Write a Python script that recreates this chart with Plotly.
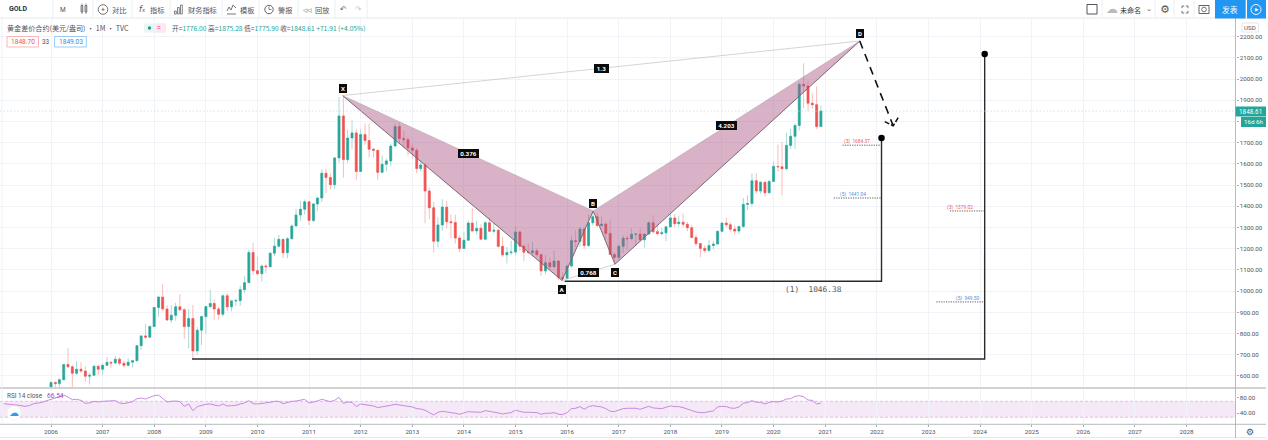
import plotly.graph_objects as go

W, H = 1268, 440

# ---------- data ----------
FIRST_YEAR = 2006
OPEN = [513,569,564,582,654,643,613,632,623,599,603,646,
632,650,664,661,679,660,650,665,672,743,789,783,
833,923,972,916,864,886,926,912,833,871,718,816,
880,927,942,916,891,978,926,954,955,1007,1040,1182,
1096,1082,1118,1115,1179,1212,1244,1181,1247,1307,1359,1386,
1421,1333,1411,1439,1556,1536,1502,1628,1826,1620,1722,1746,
1564,1738,1710,1669,1664,1560,1598,1614,1684,1776,1719,1714,
1675,1664,1578,1595,1472,1393,1235,1312,1396,1327,1323,1250,
1201,1240,1321,1284,1296,1245,1322,1282,1287,1211,1171,1182,
1184,1279,1212,1183,1182,1190,1172,1095,1134,1115,1142,1065,
1060,1118,1238,1234,1293,1215,1322,1351,1309,1316,1272,1173,
1159,1211,1249,1247,1268,1269,1242,1269,1322,1280,1271,1275,
1303,1345,1318,1325,1315,1299,1253,1224,1201,1192,1215,1222,
1282,1321,1313,1292,1283,1305,1409,1413,1520,1472,1513,1464,
1517,1588,1586,1577,1687,1730,1781,1975,1967,1886,1879,1776.00]
HIGH = [575,575,590,655,730,650,670,665,645,615,650,650,
660,690,672,695,690,672,685,675,745,790,845,838,
925,975,1033,935,935,945,987,920,915,935,830,885,
930,1007,960,925,985,990,960,965,1025,1070,1195,1227,
1162,1125,1130,1180,1250,1265,1245,1255,1315,1388,1425,1432,
1425,1412,1445,1575,1577,1555,1632,1915,1921,1760,1805,1765,
1765,1790,1790,1675,1665,1640,1625,1695,1790,1795,1755,1725,
1695,1675,1615,1605,1488,1420,1348,1433,1425,1362,1360,1262,
1280,1332,1392,1331,1315,1332,1345,1323,1293,1255,1208,1238,
1307,1285,1220,1225,1232,1205,1178,1170,1157,1192,1142,1088,
1125,1262,1287,1303,1303,1362,1375,1367,1352,1325,1338,1182,
1220,1263,1262,1296,1270,1296,1270,1330,1358,1306,1299,1307,
1366,1362,1356,1365,1326,1310,1266,1224,1215,1243,1237,1285,
1326,1347,1325,1310,1306,1439,1452,1555,1557,1518,1516,1524,
1612,1690,1703,1747,1765,1790,1985,2075,1992,1933,1965,1875.28]
LOW = [515,543,540,582,640,543,605,615,573,560,600,605,
605,648,637,660,650,640,645,640,670,722,775,785,
835,880,905,860,850,860,905,775,730,680,700,745,
800,920,865,865,880,905,905,930,930,990,1040,1075,
1075,1045,1085,1115,1165,1205,1155,1155,1245,1315,1330,1360,
1310,1325,1380,1420,1462,1480,1480,1605,1535,1605,1670,1525,
1565,1690,1630,1630,1525,1555,1565,1590,1685,1692,1675,1640,
1625,1555,1565,1320,1340,1180,1207,1285,1295,1250,1225,1185,
1203,1240,1280,1268,1240,1240,1282,1272,1205,1160,1130,1170,
1168,1190,1142,1175,1170,1162,1072,1080,1098,1115,1052,1046,
1062,1110,1208,1208,1200,1208,1310,1302,1305,1242,1171,1123,
1147,1180,1195,1243,1214,1236,1205,1266,1270,1262,1264,1236,
1303,1303,1303,1302,1282,1250,1212,1160,1180,1182,1196,1221,
1276,1303,1281,1266,1268,1296,1382,1400,1459,1460,1446,1460,
1518,1563,1451,1568,1670,1670,1757,1862,1848,1860,1764,1775.90]
CLOSE = [569,564,582,654,643,613,632,623,599,603,646,632,
650,664,661,679,660,650,665,672,743,789,783,833,
923,972,916,864,886,926,912,833,871,718,816,880,
927,942,916,891,978,926,954,955,1007,1040,1182,1096,
1082,1118,1115,1179,1212,1244,1181,1247,1307,1359,1386,1421,
1333,1411,1439,1556,1536,1502,1628,1826,1620,1722,1746,1564,
1738,1710,1669,1664,1560,1598,1614,1684,1776,1719,1714,1675,
1664,1578,1595,1472,1393,1235,1312,1396,1327,1323,1250,1201,
1240,1321,1284,1296,1245,1322,1282,1287,1211,1171,1182,1184,
1279,1212,1183,1182,1190,1172,1095,1134,1115,1142,1065,1060,
1118,1238,1234,1293,1215,1322,1351,1309,1316,1272,1173,1159,
1211,1249,1247,1268,1269,1242,1269,1322,1280,1271,1275,1303,
1345,1318,1325,1315,1299,1253,1224,1201,1192,1215,1222,1282,
1321,1313,1292,1283,1305,1409,1413,1520,1472,1513,1464,1517,
1588,1586,1577,1687,1730,1781,1975,1967,1886,1879,1776,1848.61]

RSI = [64.2,62.5,61.7,60.8,59.2,57.5,59.2,64.2,65.8,67.5,71.7,
74.2,78.3,81.7,85.8,80.8,74.2,75,72.5,65,65.8,70,68.3,
70,70.8,70.8,71.7,65.8,64.2,66.7,69.2,76.7,78.3,75.8,80.8,
84.2,85.8,76.7,68.3,70,70.8,69.2,57.5,63.3,46.7,56.7,60,
62.5,63.3,60,58.3,63.3,58.3,59.2,60,63.3,65.8,71.7,64.2,
63.3,64.2,65,67.5,70,70,64.2,67.5,70,70.8,73.3,75,
65.8,68.3,70.8,75,72.5,69.2,72.5,80,65,68.3,67.5,56.7,
63.3,61.7,60.8,58.3,54.2,55.8,56.7,60,62.5,60,59.2,57.5,
55.8,51.7,50.8,47.5,41.7,35.8,42.5,45,43.3,42.5,40,37.5,
40,44.2,43.3,43.3,42.5,46.7,45,44.2,40.8,38.3,39.2,41.7,
47.5,44.2,42.5,42.5,42.5,41.7,37.5,40,40,41.7,37.5,36.7,
41.7,51.7,52.5,56.7,50,56.7,59.2,57.5,55.8,51.7,45,44.2,
47.5,51.7,52.5,52.5,52.5,50,54.2,57.5,53.3,51.7,51.7,55,
58.3,56.7,56.7,54.2,50.8,45.8,43.3,41.7,41.7,44.2,45.8,55.8,
57.5,56.7,53.3,52.5,55.8,65,66.7,71.7,67.5,67.5,63.3,67.5,
69.2,68.3,70.8,75.8,76.7,82.5,84.2,81.7,73.3,72.5,63.3,65.8]

YEARS = list(range(2006, 2029))
PRICE_TICKS = list(range(600, 2201, 100))
RSI_TICKS = [40, 80]

# Harmonic pattern points X A B C D (decimal year, price)
P_X = [2011.66, 2015.91, 2016.51, 2016.93, 2021.67]
P_Y = [1922, 1050, 1378, 1127, 2179]
P_NAMES = ["X", "A", "B", "C", "D"]
RATIOS = ["0.376", "0.768", "1.3", "4.203"]

LEVEL1_X = [2015.96, 2022.09, 2022.09]
LEVEL1_Y = [1046.38, 1046.38, 1722]
LEVEL2_X = [2008.74, 2024.09, 2024.09]
LEVEL2_Y = [680, 680, 2118]
ARROW_X = [2021.67, 2022.33]
ARROW_Y = [2179, 1779]
ARROW_HEAD_X = [2022.16, 2022.33, 2022.43]
ARROW_HEAD_Y = [1799, 1779, 1822]
TARGET_X0 = [2021.34, 2021.17, 2023.42, 2023.16]
TARGET_X1 = [2022.09, 2022.09, 2024.09, 2024.09]
TARGET_Y = [1688, 1439, 1378, 949]
TARGET_TXT = ["(3)  1684.37", "(5)  1441.04", "(3)  1379.02", "(5)  949.50"]
TARGET_CLR = ["#f05a5a", "#4a90e2", "#f05a5a", "#4a90e2"]
TARGET_LBL_X = [2021.62, 2021.55, 2023.62, 2023.75]
LAST_PRICE = 1848.61

# ---------- helpers ----------
def yr(v):
    y = int(v)
    m = (v - y) * 12
    mo = int(m)
    d = int((m - mo) * 28) + 1
    return f"{y}-{mo+1:02d}-{d:02d}"

def month_dates(y0, m0, n):
    out = []
    for i in range(n):
        t = (y0 * 12 + m0 - 1) + i
        out.append(f"{t//12}-{t%12+1:02d}-01")
    return out

px = lambda x: x / W
py = lambda y: 1 - y / H
LATIN = "Roboto, 'Noto Sans CJK SC', sans-serif"
CJK = "'Noto Sans CJK SC', Roboto, sans-serif"

shapes, ann = [], []

def text(x, y, s, size=7, color="#50535e", anchor="center", family=CJK):
    ann.append(dict(xref="paper", yref="paper", x=px(x), y=py(y), text=s, showarrow=False,
                    xanchor=anchor, yanchor="middle", font=dict(size=size, color=color, family=family),
                    borderpad=0, borderwidth=0))

def rect(x0, y0, x1, y1, fill=None, line=None, lw=1, layer="above"):
    shapes.append(dict(type="rect", xref="paper", yref="paper", x0=px(x0), x1=px(x1), y0=py(y0), y1=py(y1),
                       fillcolor=fill or "rgba(0,0,0,0)", line=dict(color=line or "rgba(0,0,0,0)", width=lw if line else 0),
                       layer=layer))

def seg(x0, y0, x1, y1, color="#e0e3eb", lw=1, layer="above"):
    shapes.append(dict(type="line", xref="paper", yref="paper", x0=px(x0), x1=px(x1), y0=py(y0), y1=py(y1),
                       line=dict(color=color, width=lw), layer=layer))

def circ(cx, cy, r, fill=None, line=None, lw=1):
    shapes.append(dict(type="circle", xref="paper", yref="paper", x0=px(cx-r), x1=px(cx+r), y0=py(cy-r), y1=py(cy+r),
                       fillcolor=fill or "rgba(0,0,0,0)", line=dict(color=line or "rgba(0,0,0,0)", width=lw if line else 0)))

# ---------- traces ----------
dates = month_dates(FIRST_YEAR, 1, len(CLOSE))
GREEN, RED = "#26a69a", "#ef5350"
fig = go.Figure()
fig.add_trace(go.Candlestick(x=dates, open=OPEN, high=HIGH, low=LOW, close=CLOSE, hoverinfo="skip",
    increasing=dict(line=dict(color="#a8dbd6", width=1), fillcolor="#a8dbd6"),
    decreasing=dict(line=dict(color="#f9bcbb", width=1), fillcolor="#f9bcbb"),
    whiskerwidth=0, showlegend=False))
fig.add_trace(go.Candlestick(x=dates, open=OPEN, close=CLOSE,
    high=[max(a, b) for a, b in zip(OPEN, CLOSE)], low=[min(a, b) for a, b in zip(OPEN, CLOSE)], hoverinfo="skip",
    increasing=dict(line=dict(color=GREEN, width=0.5), fillcolor=GREEN),
    decreasing=dict(line=dict(color=RED, width=0.5), fillcolor=RED),
    whiskerwidth=0, showlegend=False))

def line(xs, ys, color, width, dash="solid", fill=None, fillcolor=None):
    fig.add_trace(go.Scatter(x=[yr(v) for v in xs], y=ys, mode="lines", hoverinfo="skip", showlegend=False,
                             line=dict(color=color, width=width, dash=dash), fill=fill, fillcolor=fillcolor,
                             xaxis="x", yaxis="y"))

FILL = "rgba(170,85,130,0.45)"
i = [0, 1, 2, 0]
fig.add_trace(go.Scatter(x=[yr(P_X[k]) for k in i], y=[P_Y[k] for k in i], mode="none", fill="toself",
                         fillcolor=FILL, hoverinfo="skip", showlegend=False))
j = [2, 3, 4, 2]
fig.add_trace(go.Scatter(x=[yr(P_X[k]) for k in j], y=[P_Y[k] for k in j], mode="none", fill="toself",
                         fillcolor=FILL, hoverinfo="skip", showlegend=False))
line(P_X, P_Y, "#7a6872", 1.0)
line([P_X[0], P_X[2], P_X[4]], [P_Y[0], P_Y[2], P_Y[4]], "#b3a4ac", 0.6)
line([P_X[0], P_X[4]], [P_Y[0], P_Y[4]], "#c2c2c2", 0.7)
line([P_X[1], P_X[3]], [P_Y[1], P_Y[3]], "#c2c2c2", 0.7)

line(LEVEL1_X, LEVEL1_Y, "#2a2a2a", 1.4)
line(LEVEL2_X, LEVEL2_Y, "#2a2a2a", 1.4)
fig.add_trace(go.Scatter(x=[yr(LEVEL1_X[-1]), yr(LEVEL2_X[-1])], y=[LEVEL1_Y[-1], LEVEL2_Y[-1]], mode="markers",
                         marker=dict(color="#000000", size=6.5), hoverinfo="skip", showlegend=False))
line(ARROW_X, ARROW_Y, "#111111", 1.6, dash="8px,6px")
line(ARROW_HEAD_X, ARROW_HEAD_Y, "#111111", 1.5, dash="5px,2px")
for x0, x1, yv in zip(TARGET_X0, TARGET_X1, TARGET_Y):
    line([x0, x1], [yv, yv], "#333333", 0.8, dash="1.2px,1.2px")
fig.add_trace(go.Scatter(x=month_dates(2005, 2, len(RSI)), y=RSI, mode="lines", xaxis="x", yaxis="y2",
                         line=dict(color="#c07fdc", width=0.9), hoverinfo="skip", showlegend=False))

# ---------- labels on the pattern ----------
def tag(xv, yv, s, w, h, yshift=0):
    ann.append(dict(x=yr(xv), y=yv, xref="x", yref="y", text=f"<b>{s}</b>", showarrow=False, yshift=yshift,
                    bgcolor="#0b0b0b", bordercolor="#0b0b0b", borderwidth=0, borderpad=0, width=w, height=h,
                    valign="middle", align="center", font=dict(size=6.2, color="#ffffff", family=LATIN)))

for n, xv, yv, sh in zip(P_NAMES, P_X, P_Y, [7, -9, 7, -8, 8]):
    tag(xv, yv, n, 8, 9, sh)
for s, a, b, wd in zip(RATIOS, [0, 1, 0, 2], [2, 3, 4, 4], [21, 21, 15, 21]):
    tag((P_X[a] + P_X[b]) / 2, (P_Y[a] + P_Y[b]) / 2, s, wd, 9)

for xv, yv, s, c in zip(TARGET_LBL_X, TARGET_Y, TARGET_TXT, TARGET_CLR):
    ann.append(dict(x=yr(xv), y=yv, xref="x", yref="y", text=s, showarrow=False, yshift=3.5,
                    font=dict(size=4.8, color=c, family=LATIN)))
text(813, 289, "(1)  1046.38", size=7.8, color="#555555", family="'DejaVu Sans Mono', monospace")

# ---------- last price line + RSI band ----------
shapes.append(dict(type="line", xref="x domain", yref="y", x0=0, x1=1, y0=LAST_PRICE, y1=LAST_PRICE,
                   line=dict(color="#a6dbd6", width=0.6, dash="1.5px,2px"), layer="above"))
shapes.append(dict(type="rect", xref="x domain", yref="y2", x0=0, x1=1, y0=30, y1=70,
                   fillcolor="rgba(156,39,176,0.10)", line=dict(width=0), layer="below"))
for v in (30, 70):
    shapes.append(dict(type="line", xref="x domain", yref="y2", x0=0, x1=1, y0=v, y1=v,
                       line=dict(color="#d6b5e2", width=0.8, dash="3px,2px"), layer="below"))

# ---------- chrome ----------
seg(0, 18, W, 18, "#e8e9ee", 1)
for x in (53, 93, 132, 170, 222, 259, 298, 335, 367, 1102, 1155, 1174, 1194):
    seg(x, 0, x, 18, "#eceef2", 1)
seg(0, 388, 1266, 388, "#d2d2d2", 2)
seg(0, 424.3, 1266, 424.3, "#a7a8b3", 0.8)
seg(0, 437.5, 1266, 437.5, "#e6e7ea", 1)
seg(1235.5, 18, 1235.5, 438, "#a7a8b3", 0.8)
seg(2, 18, 2, 424, "#eceef2", 0.8)

text(17.5, 9.2, "<b>GOLD</b>", size=7, color="#2a2e39", family=LATIN)
text(63, 9.5, "M", size=6.5, color="#50535e", family=LATIN)
rect(81, 5.5, 82.8, 12, "#ffffff", "#50535e", 0.7)
rect(85, 5.5, 86.8, 12, "#ffffff", "#50535e", 0.7)
seg(82, 3.5, 82, 14, "#50535e", 0.6)
seg(86, 3.5, 86, 14, "#50535e", 0.6)
circ(103, 9.5, 4.8, None, "#50535e", 0.8)
text(103, 9.5, "+", size=7, color="#50535e", family=LATIN)
text(118.5, 9.5, "对比", size=7.2)
text(142, 9.5, "<i>f</i>ₓ", size=8, family="'DejaVu Sans'")
text(157, 9.5, "指标", size=7.2)
for a, b in ((174.5, 11), (177.5, 7.5), (180.5, 5)):
    rect(a, b, a + 1.8, 14, None, "#50535e", 0.7)
text(202, 9.5, "财务指标", size=7.2)
shapes.append(dict(type="path", xref="paper", yref="paper",
                   path=f"M {px(227)} {py(11)} L {px(229)} {py(7)} L {px(231)} {py(10)} L {px(233)} {py(5)} L {px(236)} {py(8)}",
                   line=dict(color="#50535e", width=0.8)))
seg(227, 14, 236, 14, "#50535e", 0.8)
text(247, 9.5, "模板", size=7.2)
circ(269, 9.5, 4.2, None, "#50535e", 0.9)
seg(269, 9.5, 269, 6.5, "#50535e", 0.7)
seg(269, 9.5, 271.5, 9.5, "#50535e", 0.7)
text(285, 9.5, "警报", size=7.2)
text(307, 9.5, "◁◁", size=5.5, family="'DejaVu Sans'")
text(322, 9.5, "回放", size=7.2)
text(343, 9, "↶", size=8, color="#666", family="'DejaVu Sans'")
text(358, 9, "↷", size=8, color="#c4c6cc", family="'DejaVu Sans'")

rect(1087, 4.5, 1097, 14, None, "#50535e", 1)
text(1112, 9, "☁", size=12, color="#b8bac2", family="'DejaVu Sans'")
text(1130, 9.5, "未命名", size=7, color="#2a2e39")
text(1149, 9, "⌄", size=7, family="'DejaVu Sans'")
text(1165, 9.5, "⚙", size=11, color="#50535e", family="'DejaVu Sans'")
for cx, cy, sx, sy in ((1182, 6, 1, 1), (1188, 6, -1, 1), (1182, 13, 1, -1), (1188, 13, -1, -1)):
    seg(cx, cy, cx + 2.2 * sx, cy, "#50535e", 0.8)
    seg(cx, cy, cx, cy + 2.2 * sy, "#50535e", 0.8)
rect(1199, 5.5, 1209, 13.5, None, "#50535e", 0.9)
circ(1204, 9.5, 2.3, None, "#50535e", 0.8)
rect(1215, 0, 1245.7, 18.5, "#2196f3")
text(1230.3, 9.5, "发表", size=7.8, color="#ffffff")
rect(1247, 0, 1266, 18.5, "#2196f3")
circ(1256, 9.5, 5, None, "#ffffff", 0.9)
text(1256.5, 9.7, "▶", size=4.5, color="#ffffff", family="'DejaVu Sans'")

text(7, 28, "黄金差价合约(美元/盎司) · 1M · TVC", size=7.1, anchor="left")
rect(144, 23.5, 166, 32.5, "#ebf5f3")
rect(155, 23.5, 166, 32.5, "#fbe9ef")
circ(149.5, 28, 1.7, "#1f9e90")
text(158.5, 28, "=", size=7, color="#e91e63", family=LATIN)
T = "#26a69a"
D = "#50535e"
vals = (f'<span style="color:{D}">开=</span>1776.00 <span style="color:{D}">高=</span>1875.28 '
        f'<span style="color:{D}">低=</span>1775.90 <span style="color:{D}">收=</span>1848.61 +71.91 (+4.05%)')
text(172, 28, vals, size=6.7, color=T, anchor="left")
rect(7, 36.5, 38.5, 47, "#ffffff", "#f7a5a3", 0.8)
text(22.7, 42, "1848.70", size=6.6, color="#ef5350", family=LATIN)
text(46.3, 42, "33", size=6.3, family=LATIN)
rect(54.5, 36.5, 86.3, 47, "#ffffff", "#7cc0f5", 0.8)
text(70.5, 42, "1849.03", size=6.6, color="#2f8fe0", family=LATIN)

rect(1242, 23, 1258.5, 32, "#ffffff", "#dcdde2", 0.7)
text(1250.3, 27.5, "USD", size=6.2, family=LATIN)
rect(1235.5, 106.5, 1266, 116.5, "#26a69a")
text(1250.5, 111.6, "1848.61", size=6.4, color="#ffffff", family=LATIN)
rect(1241, 117, 1266, 127, "#26a69a")
text(1253.5, 122, "16d 6h", size=6.2, color="#ffffff", family=LATIN)

text(7, 396, "RSI 14 close", size=6.4, family=LATIN, anchor="left")
text(47, 396, "66.54", size=6.6, color="#ab47bc", family=LATIN, anchor="left")
circ(14, 413, 7, "#ffffff", "#eceef2", 0.6)
text(14, 412.5, "☁", size=10, color="#2f9bf0", family="'DejaVu Sans'")
text(1250, 432, "⚙", size=9, color="#50535e", family="'DejaVu Sans'")

GRID = "#f1f3f9"
fig.update_layout(
    width=W, height=H, margin=dict(l=0, r=0, t=0, b=0), paper_bgcolor="#ffffff", plot_bgcolor="#ffffff",
    showlegend=False, shapes=shapes, annotations=ann, boxgap=0.3,
    font=dict(family=LATIN, size=6.2, color="#50535e"),
    xaxis=dict(domain=[0, 1235.5 / W], anchor="y2", type="date", range=[yr(2005.012), yr(2028.955)],
               tickmode="array", tickvals=[f"{v}-01-01" for v in YEARS], ticktext=[str(v) for v in YEARS],
               showgrid=True, gridcolor=GRID, gridwidth=1, zeroline=False, rangeslider=dict(visible=False),
               tickfont=dict(size=6.2, color="#50535e", family=LATIN), ticks="outside", ticklen=2, tickcolor="#a7a8b3",
               fixedrange=True),
    yaxis=dict(domain=[1 - 387 / H, 1 - 18 / H], anchor="x", side="right", range=[548, 2287.6],
               tickmode="array", tickvals=PRICE_TICKS,
               ticktext=["" if v == 1800 else f"{v:.2f}" for v in PRICE_TICKS],
               showgrid=True, gridcolor=GRID, gridwidth=1, zeroline=False, ticks="outside", ticklen=2,
               tickcolor="#a7a8b3", tickfont=dict(size=6.2, color="#50535e", family=LATIN), fixedrange=True),
    yaxis2=dict(domain=[1 - 424 / H, 1 - 389 / H], anchor="x", side="right", range=[13, 101],
                tickmode="array", tickvals=RSI_TICKS, ticktext=[f"{v:.2f}" for v in RSI_TICKS],
                showgrid=False, zeroline=False, ticks="outside", ticklen=2, tickcolor="#a7a8b3",
                tickfont=dict(size=6.2, color="#50535e", family=LATIN), fixedrange=True),
)
fig.write_html("out.html", config=dict(displayModeBar=False),
               post_script="document.body.style.margin='0';document.body.style.overflow='hidden';")
